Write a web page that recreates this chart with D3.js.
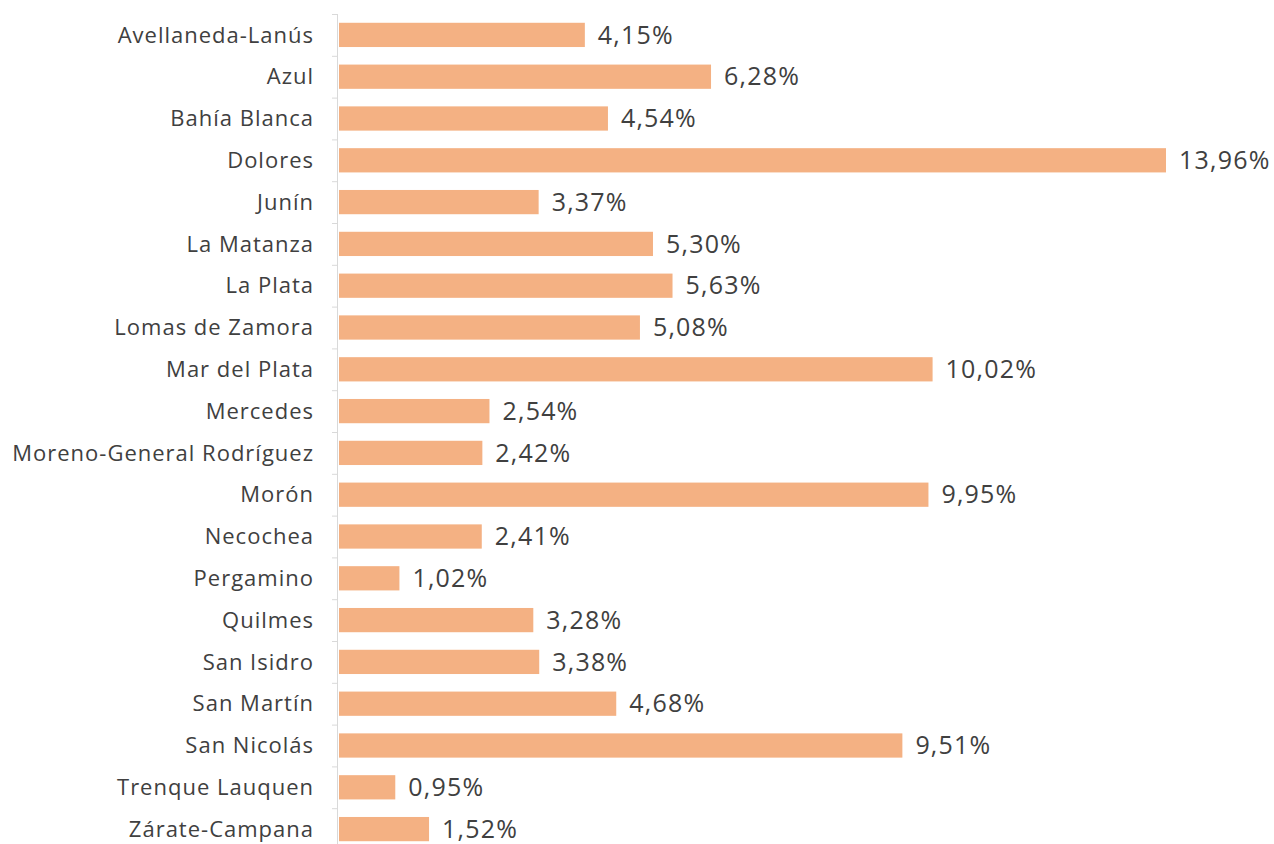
<!DOCTYPE html>
<html>
<head>
<meta charset="utf-8">
<script src="https://cdn.jsdelivr.net/npm/d3@7"></script>
<style>
  body { margin: 0; background: #fff; }
  .canvas text { font-family: "Open Sans", sans-serif; fill: #404040; }
</style>
</head>
<body>
<div class="canvas"></div>
<script>
const categories = ['Avellaneda-Lanús', 'Azul', 'Bahía Blanca', 'Dolores', 'Junín', 'La Matanza', 'La Plata',
  'Lomas de Zamora', 'Mar del Plata', 'Mercedes', 'Moreno-General Rodríguez', 'Morón', 'Necochea',
  'Pergamino', 'Quilmes', 'San Isidro', 'San Martín', 'San Nicolás', 'Trenque Lauquen', 'Zárate-Campana'];
const values = [4.15, 6.28, 4.54, 13.96, 3.37, 5.30, 5.63, 5.08, 10.02, 2.54, 2.42, 9.95, 2.41,
  1.02, 3.28, 3.38, 4.68, 9.51, 0.95, 1.52];

const width = 1274, height = 844;
const margin = { top: 14, left: 338 };

const svg = d3.select('.canvas')
  .append('svg')
  .attr('width', width)
  .attr('height', height);

const x = d3.scaleLinear().domain([0, 13.96]).range([margin.left, 1165]);
const y = d3.scaleBand().domain(categories).range([margin.top, margin.top + 41.8 * categories.length])
  .paddingInner(0.42).paddingOuter(0.21);

// bars
svg.selectAll('rect')
  .data(values)
  .enter()
  .append('rect')
    .attr('x', x(0) + 1)
    .attr('y', (d, i) => y(categories[i]))
    .attr('width', d => x(d) - x(0))
    .attr('height', y.bandwidth())
    .attr('fill', '#F4B183');

// value labels
svg.selectAll('.val')
  .data(values)
  .enter()
  .append('text')
    .attr('class', 'val')
    .attr('x', d => x(d) + 14)
    .attr('y', (d, i) => y(categories[i]) + y.bandwidth() / 2)
    .attr('dy', '0.35em')
    .style('font-size', '25px')
    .style('letter-spacing', '1.2px')
    .text(d => d.toFixed(2).replace('.', ',') + '%');

// category axis
const step = y.step();
const axis = svg.append('g');
axis.append('line')
  .attr('x1', margin.left - 0.5).attr('x2', margin.left - 0.5)
  .attr('y1', margin.top).attr('y2', height)
  .attr('stroke', '#d9d9d9');
axis.selectAll('.tick')
  .data(d3.range(categories.length + 1))
  .enter()
  .append('line')
    .attr('x1', margin.left - 6).attr('x2', margin.left)
    .attr('y1', i => margin.top + i * step + 0.5)
    .attr('y2', i => margin.top + i * step + 0.5)
    .attr('stroke', '#d9d9d9');

axis.selectAll('.cat')
  .data(categories)
  .enter()
  .append('text')
    .attr('x', 314)
    .attr('y', d => y(d) + y.bandwidth() / 2)
    .attr('dy', '0.35em')
    .attr('text-anchor', 'end')
    .style('font-size', '22px')
    .style('letter-spacing', '1px')
    .text(d => d);
</script>
</body>
</html>
